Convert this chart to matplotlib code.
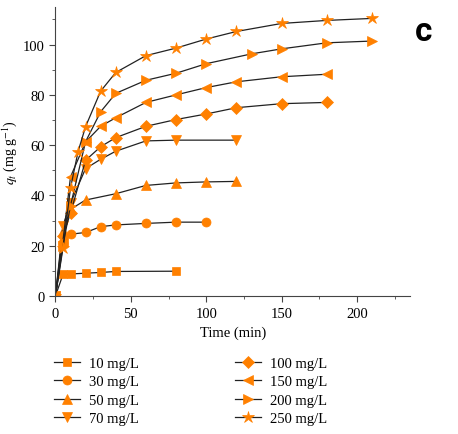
import matplotlib
matplotlib.use('Agg')
import matplotlib.pyplot as plt
from matplotlib.ticker import MultipleLocator

plt.rcParams['font.family'] = ['Liberation Serif', 'DejaVu Serif']
plt.rcParams['mathtext.fontset'] = 'stix'

# adsorption kinetics, time in min, qt in mg/g
t_10 = [0, 5, 10, 20, 30, 40, 80]
q_10 = [0, 8.6, 8.8, 9.1, 9.4, 9.8, 9.9]

t_30 = [0, 5, 10, 20, 30, 40, 60, 80, 100]
q_30 = [0, 21.3, 24.6, 25.3, 27.6, 28.3, 28.9, 29.4, 29.4]

t_50 = [0, 5, 10, 20, 40, 60, 80, 100, 120]
q_50 = [0, 26.0, 34.5, 38.2, 40.7, 44.0, 45.0, 45.4, 45.6]

t_70 = [0, 5, 10, 20, 30, 40, 60, 80, 120]
q_70 = [0, 28.0, 37.0, 50.7, 54.4, 57.6, 61.7, 62.0, 62.0]

t_100 = [0, 5, 10, 20, 30, 40, 60, 80, 100, 120, 150, 180]
q_100 = [0, 24.0, 33.0, 54.0, 59.4, 63.0, 67.5, 70.2, 72.4, 74.9, 76.5, 77.0]

t_150 = [0, 5, 10, 20, 30, 40, 60, 80, 100, 120, 150, 180]
q_150 = [0, 22.0, 47.4, 61.3, 67.5, 70.9, 77.0, 80.0, 82.9, 85.2, 87.2, 88.2]

t_200 = [0, 5, 10, 20, 30, 40, 60, 80, 100, 130, 150, 180, 210]
q_200 = [0, 20.0, 36.0, 61.4, 73.3, 80.6, 85.8, 88.6, 92.4, 96.3, 98.3, 100.7, 101.4]

t_250 = [0, 5, 10, 15, 20, 30, 40, 60, 80, 100, 120, 150, 180, 210]
q_250 = [0, 19.0, 43.0, 57.4, 67.4, 81.5, 88.9, 95.6, 98.6, 102.2, 105.2, 108.4, 109.6, 110.4]

labels = ['10 mg/L', '30 mg/L', '50 mg/L', '70 mg/L',
          '100 mg/L', '150 mg/L', '200 mg/L', '250 mg/L']
markers = ['s', 'o', '^', 'v', 'D', '<', '>', '*']
sizes = [6, 6.5, 7, 7, 6, 7, 7, 9]

series = [(t_10, q_10), (t_30, q_30), (t_50, q_50), (t_70, q_70),
          (t_100, q_100), (t_150, q_150), (t_200, q_200), (t_250, q_250)]

orange = '#ff8000'

fig = plt.figure(figsize=(4.58, 4.35), dpi=100)
ax = fig.add_axes([0.121, 0.317, 0.774, 0.665])

for (t, q), lab, m, s in zip(series, labels, markers, sizes):
    ax.plot(t, q, color='#222222', lw=0.9, marker=m, ms=s,
            mfc=orange, mec=orange, mew=0.5, label=lab)

ax.set_xlim(0, 235)
ax.set_ylim(0, 115)
ax.xaxis.set_major_locator(MultipleLocator(50))
ax.xaxis.set_minor_locator(MultipleLocator(25))
ax.yaxis.set_major_locator(MultipleLocator(20))
ax.yaxis.set_minor_locator(MultipleLocator(10))
ax.spines['top'].set_visible(False)
ax.spines['right'].set_visible(False)
for sp in ['left', 'bottom']:
    ax.spines[sp].set_color('#444444')
ax.tick_params(which='major', length=4, color='#444444', labelsize=10.5)
ax.tick_params(which='minor', length=2.5, color='#444444')

ax.set_xlabel('Time (min)', fontsize=10.5)
ax.set_ylabel(r'$q_t$ (mg g$^{-1}$)', fontsize=10, labelpad=3)

fig.text(0.905, 0.905, 'c', fontsize=24, fontweight='bold', family='Roboto')

ax.legend(loc='upper left', bbox_to_anchor=(-0.042, -0.165), ncol=2, frameon=False,
          fontsize=10.5, handlelength=1.8, columnspacing=6.6, labelspacing=0.35,
          handletextpad=0.6)

fig.savefig('out.png', dpi=100)
